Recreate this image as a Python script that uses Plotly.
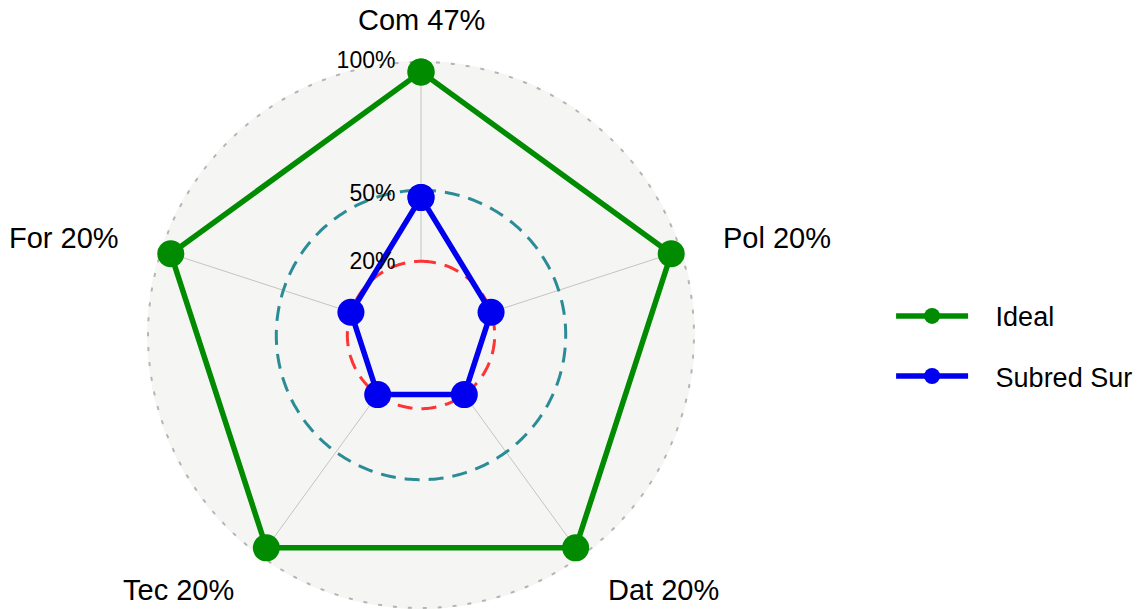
import numpy as np
import plotly.graph_objects as go

# ---- data ----
categories = ["Com", "Pol", "Dat", "Tec", "For"]
axis_labels = ["Com 47%", "Pol 20%", "Dat 20%", "Tec 20%", "For 20%"]
ideal_values = [1.0, 1.0, 1.0, 1.0, 1.0]
subred_values = [0.47, 0.20, 0.20, 0.20, 0.20]
series_names = ["Ideal", "Subred Sur"]
grid_values = [0.2, 0.5, 1.0]
grid_labels = ["20%", "50%", "100%"]

# ---- style ----
FONT = "Liberation Sans, Arial, sans-serif"
GREEN = "#008B00"
BLUE = "#0000EE"
RED = "#FF3333"
TEAL = "#2B8C96"
BG = "#F5F5F3"
CENTRE = -1.0 / 9.0          # ggradar centre offset
OUTER = 1.046                # background circle radius (value units)
LABEL_R = 1.22               # axis label radius (value units, ggradar offset 1.2)

# page body has an 8px margin -> figure sized to fit the 1146x609 window
W, H = 1138, 601
cx, cy, R = 413.0, 327.0, 274.0   # polar centre / radius in figure px

n = len(categories)
angles = [i * 360.0 / n for i in range(n)]
circle_theta = np.linspace(0, 360, 361)

fig = go.Figure()

# background dotted outer circle
fig.add_trace(go.Scatterpolar(
    r=[OUTER] * len(circle_theta), theta=circle_theta, mode="lines",
    line=dict(color="#B4B4B4", width=4, dash="4px,11px"),
    hoverinfo="skip", showlegend=False, cliponaxis=False))

# spokes
for a in angles:
    fig.add_trace(go.Scatterpolar(
        r=[grid_values[0], grid_values[-1]], theta=[a, a], mode="lines",
        line=dict(color="#C4C4C4", width=1),
        hoverinfo="skip", showlegend=False))

# min / mid grid circles
fig.add_trace(go.Scatterpolar(
    r=[grid_values[0]] * len(circle_theta), theta=circle_theta, mode="lines",
    line=dict(color=RED, width=3, dash="15px,9px"),
    hoverinfo="skip", showlegend=False))
fig.add_trace(go.Scatterpolar(
    r=[grid_values[1]] * len(circle_theta), theta=circle_theta, mode="lines",
    line=dict(color=TEAL, width=3, dash="15px,9px"),
    hoverinfo="skip", showlegend=False))

# series
for name, vals, col in [(series_names[0], ideal_values, GREEN),
                        (series_names[1], subred_values, BLUE)]:
    fig.add_trace(go.Scatterpolar(
        r=vals + vals[:1], theta=angles + angles[:1], mode="lines+markers",
        name="\u00a0" * 3 + name, legendgroup=name,
        line=dict(color=col, width=5.5),
        marker=dict(color=col, size=27),
        cliponaxis=False))

# radial grid labels
label_offsets = [-0.01, -0.02, 0.04]
fig.add_trace(go.Scatterpolar(
    r=[v + o for v, o in zip(grid_values, label_offsets)],
    theta=[0] * len(grid_values), mode="text",
    text=[t + "\u00a0" * 4 for t in grid_labels],
    textposition="middle left",
    textfont=dict(family=FONT, size=23, color="black"),
    hoverinfo="skip", showlegend=False, cliponaxis=False))

# axis labels: placed outside the polar area as paper annotations
px_per_unit = R / (OUTER - CENTRE)
d = (LABEL_R - CENTRE) * px_per_unit
annotations = []
for a, lab in zip(angles, axis_labels):
    s, c = np.sin(np.radians(a)), np.cos(np.radians(a))
    xa = "center" if abs(s) < 0.1 else ("left" if s > 0 else "right")
    annotations.append(dict(
        x=(cx + d * s) / W, y=(H - cy + d * c) / H,
        xref="paper", yref="paper", xanchor=xa, yanchor="middle",
        text=lab, showarrow=False,
        font=dict(family=FONT, size=29, color="black")))

fig.update_layout(
    width=W, height=H,
    margin=dict(l=0, r=0, t=0, b=0),
    paper_bgcolor="white",
    font=dict(family=FONT, color="black"),
    annotations=annotations,
    polar=dict(
        domain=dict(x=[(cx - R) / W, (cx + R) / W],
                    y=[(H - cy - R) / H, (H - cy + R) / H]),
        bgcolor=BG,
        radialaxis=dict(range=[CENTRE, OUTER], visible=False,
                        showgrid=False, showline=False),
        angularaxis=dict(
            rotation=90, direction="clockwise",
            tickmode="array", tickvals=angles, showticklabels=False,
            ticks="", showgrid=False, showline=False,
        ),
    ),
    legend=dict(
        x=0.776, y=0.437, xanchor="left", yanchor="middle",
        font=dict(family=FONT, size=27, color="black"),
        tracegroupgap=22, itemwidth=72, bgcolor="rgba(0,0,0,0)",
    ),
)

fig.write_html("out.html")
